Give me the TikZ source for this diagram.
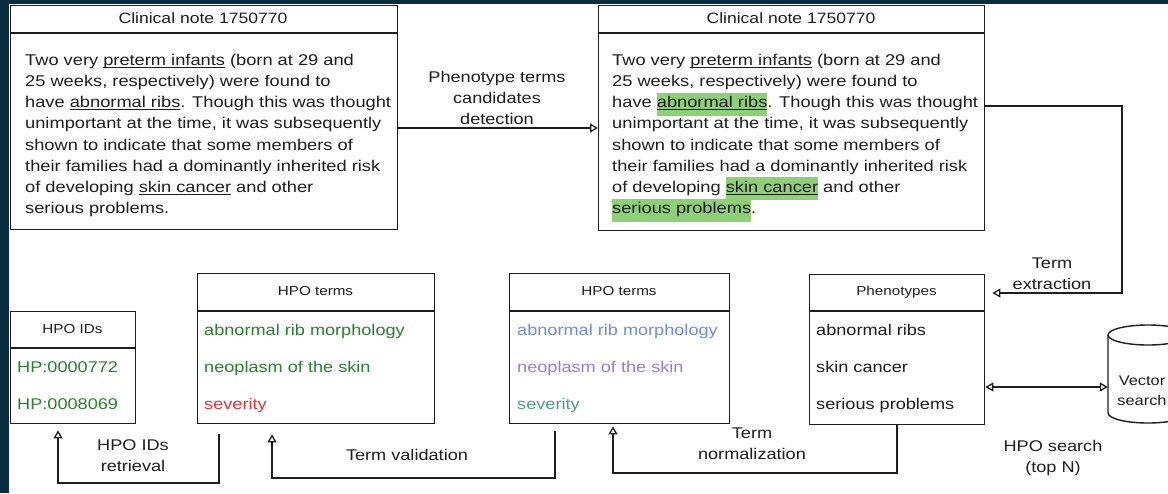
\documentclass[tikz,border=0pt]{standalone}
\usepackage{fontspec}
\setmainfont{Liberation Sans}[FakeStretch=1.17]
\usetikzlibrary{arrows.meta}
\definecolor{ink}{HTML}{1E1E1E}
\definecolor{navy}{HTML}{0A2C40}
\definecolor{hlg}{HTML}{8FCF78}
\definecolor{okg}{HTML}{2B7F2F}
\definecolor{bad}{HTML}{E8323C}
\definecolor{nblue}{HTML}{6E8FD8}
\definecolor{npurp}{HTML}{9B7FC4}
\definecolor{nteal}{HTML}{4E9F88}
\newcommand\myul[1]{\setbox0\hbox{#1}\rlap{\smash{\rule[-2.6pt]{\wd0}{0.9pt}}}\box0\relax}
\newcommand\myhl[1]{\setbox2\hbox{#1}\rlap{\smash{\color{hlg}\rule[-8pt]{\wd2}{23pt}}}\box2\relax}
\tikzset{
  boxs/.style={draw=ink, line width=1.4pt, rectangle, inner sep=0pt, anchor=north west},
  divl/.style={draw=ink, line width=1.4pt},
  conn/.style={draw=ink, line width=1.3pt, -{Triangle[open,length=8pt,width=9pt]}},
  dconn/.style={draw=ink, line width=1.3pt, {Triangle[open,length=8pt,width=9pt]}-{Triangle[open,length=8pt,width=9pt]}},
  bodytxt/.style={inner sep=0pt, anchor=north west, align=left, text=ink, font=\fontsize{15.6}{21.2}\selectfont},
  title/.style={inner sep=0pt, anchor=base, text=ink, font=\fontsize{15}{18}\selectfont},
  hdr/.style={inner sep=0pt, anchor=base, text=ink, font=\fontsize{13}{16}\selectfont},
  item/.style={inner sep=0pt, anchor=base west, font=\fontsize{15.5}{18}\selectfont},
  lbl/.style={inner sep=0pt, anchor=north, align=center, text=ink, font=\fontsize{15.5}{21}\selectfont},
}
\begin{document}
\begin{tikzpicture}[x=1pt,y=-1pt]
\useasboundingbox (0,0) rectangle (1168,493);
\clip (0,0) rectangle (1168,493);
\fill[navy] (0,0) rectangle (1168,493);
\fill[white] (9,4) rectangle (1168,493);

% clinical notes
\node[boxs, minimum width=387pt, minimum height=224pt] (noteL) at (10,5) {};
\draw[divl] ([yshift=-28pt]noteL.north west) -- ([yshift=-28pt]noteL.north east);
\node[title] (titleL) at (203,23) {Clinical note 1750770};
\node[bodytxt] (bodyL) at (25,51) {\rule{0pt}{14pt}Two very \myul{preterm infants} (born at 29 and\\
25 weeks, respectively) were found to\\
have \myul{abnormal ribs}. Though this was thought\\
unimportant at the time, it was subsequently\\
shown to indicate that some members of\\
their families had a dominantly inherited risk\\
of developing \myul{skin cancer} and other\\
serious problems.};

\node[boxs, minimum width=386pt, minimum height=225pt] (noteR) at (598,5) {};
\draw[divl] ([yshift=-28pt]noteR.north west) -- ([yshift=-28pt]noteR.north east);
\node[title] (titleR) at (791,23) {Clinical note 1750770};
\node[bodytxt] (bodyR) at (612,51) {\rule{0pt}{14pt}Two very \myul{preterm infants} (born at 29 and\\
25 weeks, respectively) were found to\\
have \myhl{\myul{abnormal ribs}}. Though this was thought\\
unimportant at the time, it was subsequently\\
shown to indicate that some members of\\
their families had a dominantly inherited risk\\
of developing \myhl{\myul{skin cancer}} and other\\
\myhl{serious problems}.};

% Phenotypes
\node[boxs, minimum width=175pt, minimum height=150pt] (phen) at (809,274) {};
\draw[divl] (phen.west |- 0,311) -- (phen.east |- 0,311);
\node[hdr] (phenH) at (896.5,295) {Phenotypes};
\node[item, text=ink] (ph1) at (816,335) {abnormal ribs};
\node[item, text=ink] (ph2) at (816,372) {skin cancer};
\node[item, text=ink] (ph3) at (816,409) {serious problems};

% HPO terms (normalized)
\node[boxs, minimum width=220pt, minimum height=150pt] (hpo2) at (509,273) {};
\draw[divl] (hpo2.west |- 0,311) -- (hpo2.east |- 0,311);
\node[hdr] (hpo2H) at (619,295) {HPO terms};
\node[item, text=nblue] (hb1) at (517,335) {abnormal rib morphology};
\node[item, text=npurp] (hb2) at (517,372) {neoplasm of the skin};
\node[item, text=nteal] (hb3) at (517,409) {severity};

% HPO terms (validated)
\node[boxs, minimum width=237pt, minimum height=150pt] (hpo1) at (197,273) {};
\draw[divl] (hpo1.west |- 0,311) -- (hpo1.east |- 0,311);
\node[hdr] (hpo1H) at (315.5,295) {HPO terms};
\node[item, text=okg] (ha1) at (204,335) {abnormal rib morphology};
\node[item, text=okg] (ha2) at (204,372) {neoplasm of the skin};
\node[item, text=bad] (ha3) at (204,409) {severity};

% HPO IDs
\node[boxs, minimum width=125pt, minimum height=112pt] (ids) at (10,311) {};
\draw[divl] (ids.west |- 0,348) -- (ids.east |- 0,348);
\node[hdr] (idsH) at (72.5,333) {HPO IDs};
\node[item, text=okg] (id1) at (17,372) {HP:0000772};
\node[item, text=okg] (id2) at (17,409) {HP:0008069};

% vector search cylinder
\node[inner sep=0pt, minimum width=80pt, minimum height=98pt] (vec) at (1148,374) {};
\draw[ink, line width=1.4pt, fill=white] (1108,335) -- (1108,413) arc[start angle=180, end angle=360, x radius=40pt, y radius=10pt] -- (1188,335);
\draw[ink, line width=1.4pt] (1148,335) ellipse [x radius=40pt, y radius=10pt];
\node[lbl, font=\fontsize{14}{20}\selectfont] (vecT) at (1142,373) {\rule{0pt}{12pt}Vector\\search};

% connectors
\draw[conn] (noteL.east |- 0,128) -- (noteR.west |- 0,128);
\node[lbl] (detL) at (497,70) {\rule{0pt}{12pt}Phenotype terms\\candidates\\detection};

\draw[conn, shorten >=7pt] (noteR.east |- 0,106) -- (1122,106) |- (phen.east |- 0,293);
\node[lbl] (extrL) at (1052,256) {\rule{0pt}{12pt}Term\\extraction};

\draw[dconn] (phen.east |- 0,387) -- (vec.west |- 0,387);
\node[lbl] (srchL) at (1053,439) {\rule{0pt}{12pt}HPO search\\(top N)};

\draw[conn, shorten >=2pt] (phen.south -| 897,0) -- (897,473) -| (hpo2.south -| 613,0);
\node[lbl] (normL) at (752,426) {\rule{0pt}{12pt}Term\\normalization};

\draw[conn, shorten <=7pt, shorten >=10pt] (hpo2.south -| 555,0) -- (555,478) -| (hpo1.south -| 272,0);
\node[lbl, anchor=base] (valL) at (407,460) {Term validation};

\draw[conn, shorten <=10pt, shorten >=6pt] (hpo1.south -| 219,0) -- (219,483) -| (ids.south -| 58,0);
\node[lbl] (retrL) at (133,438) {\rule{0pt}{12pt}HPO IDs\\retrieval};
\end{tikzpicture}
\end{document}
